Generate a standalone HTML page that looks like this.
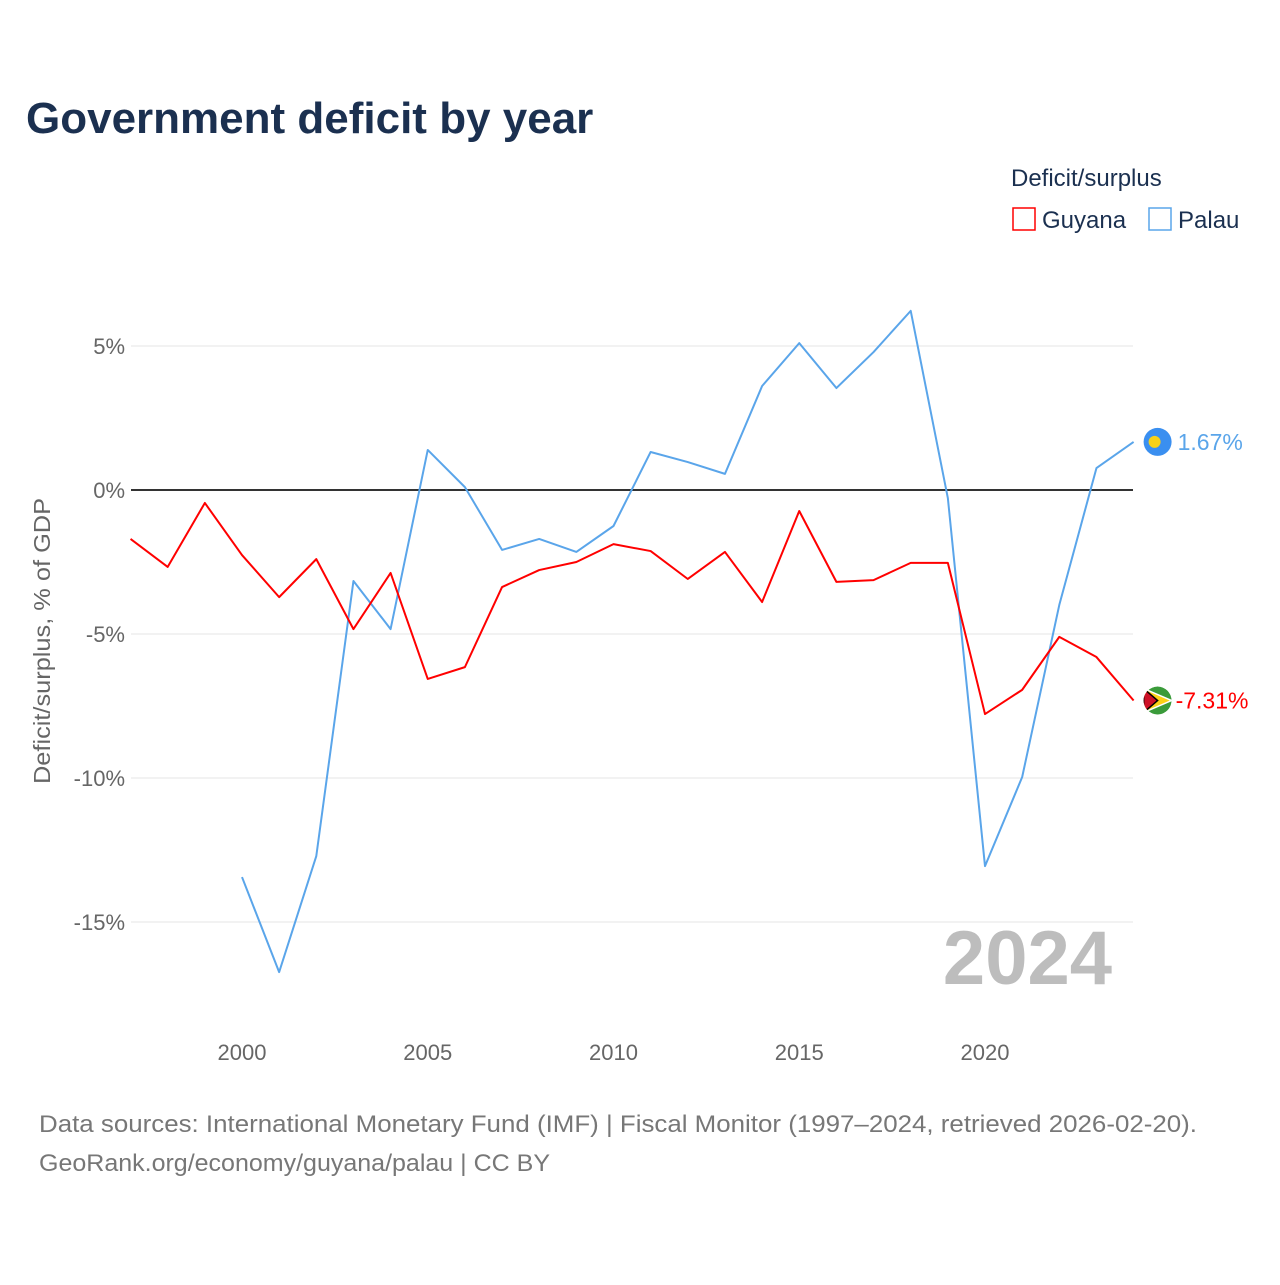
<!DOCTYPE html>
<html><head><meta charset="utf-8">
<style>
html,body{margin:0;padding:0;background:#fff;}
body{width:1280px;height:1280px;overflow:hidden;font-family:"Liberation Sans",sans-serif;}
</style></head>
<body>
<svg id="chart" width="1280" height="1280" xmlns="http://www.w3.org/2000/svg" font-family="Liberation Sans, sans-serif">
<defs><clipPath id="gclip"><circle id="gclipc" cx="0" cy="0" r="14"/></clipPath></defs>
<text x="26" y="133" font-size="44" font-weight="bold" fill="#1b3050">Government deficit by year</text>
<text x="1011" y="186" font-size="24" fill="#1b3050">Deficit/surplus</text>
<g>
<rect x="1013" y="208" width="22" height="22" fill="none" stroke="#f00" stroke-width="1.5"/>
<text x="1042" y="228" font-size="24" fill="#1b3050">Guyana</text></g>
<g>
<rect x="1149" y="208" width="22" height="22" fill="none" stroke="#5aa5ea" stroke-width="1.5"/>
<text x="1178" y="228" font-size="24" fill="#1b3050">Palau</text></g>
<text transform="translate(50,641) rotate(-90)" text-anchor="middle" font-size="23" fill="#666" textLength="286" lengthAdjust="spacingAndGlyphs">Deficit/surplus, % of GDP</text>
<g id="grid"></g>
<text x="1112" y="984" text-anchor="end" font-size="76" font-weight="bold" fill="#bdbdbd">2024</text>
<g id="series"></g>
<text x="39" y="1132" font-size="24" fill="#777" textLength="1158" lengthAdjust="spacingAndGlyphs">Data sources: International Monetary Fund (IMF) | Fiscal Monitor (1997–2024, retrieved 2026-02-20).</text>
<text x="39" y="1171" font-size="24" fill="#777" textLength="511" lengthAdjust="spacingAndGlyphs">GeoRank.org/economy/guyana/palau | CC BY</text>
</svg>
<script>
const yTicks=[5,0,-5,-10,-15];
const xTicks=[2000,2005,2010,2015,2020];
const guyanaYears=[1997,1998,1999,2000,2001,2002,2003,2004,2005,2006,2007,2008,2009,2010,2011,2012,2013,2014,2015,2016,2017,2018,2019,2020,2021,2022,2023,2024];
const guyanaValues=[-1.70,-2.67,-0.45,-2.26,-3.72,-2.40,-4.83,-2.88,-6.56,-6.15,-3.37,-2.78,-2.50,-1.88,-2.12,-3.09,-2.15,-3.89,-0.73,-3.19,-3.13,-2.53,-2.53,-7.78,-6.94,-5.10,-5.80,-7.31];
const palauYears=[2000,2001,2002,2003,2004,2005,2006,2007,2008,2009,2010,2011,2012,2013,2014,2015,2016,2017,2018,2019,2020,2021,2022,2023,2024];
const palauValues=[-13.44,-16.74,-12.71,-3.16,-4.83,1.39,0.10,-2.08,-1.70,-2.15,-1.25,1.32,0.97,0.56,3.61,5.10,3.54,4.79,6.22,-0.28,-13.06,-9.97,-3.99,0.76,1.67];
const guyanaLabel="-7.31%", palauLabel="1.67%";

const NS="http://www.w3.org/2000/svg";
const X=y=>242+(y-2000)*37.15;
const Y=v=>490-v*28.8;
function mk(tag,attrs,parent){const e=document.createElementNS(NS,tag);for(const k in attrs)e.setAttribute(k,attrs[k]);parent.appendChild(e);return e;}
const grid=document.getElementById('grid');
yTicks.forEach(t=>{
  const l=mk('line',{x1:131,x2:1133,y1:Y(t),y2:Y(t),stroke:t===0?'#333':'#e6e6e6','stroke-width':t===0?2:1},grid);
  
  
  const tx=mk('text',{x:125,y:Y(t)+8,'text-anchor':'end','font-size':22,fill:'#666'},grid);
  tx.textContent=t+'%';
  
  
});
xTicks.forEach(t=>{
  const tx=mk('text',{x:X(t),y:1060,'text-anchor':'middle','font-size':22,fill:'#666'},grid);
  tx.textContent=t;
  
  
});
const s=document.getElementById('series');
function line(years,vals,color,name){
  const p=mk('polyline',{points:years.map((y,i)=>X(y)+','+Y(vals[i])).join(' '),fill:'none',stroke:color,'stroke-width':2,'stroke-linejoin':'round'},s);
  
  
}
line(palauYears,palauValues,'#5aa5ea','palau-line');
line(guyanaYears,guyanaValues,'#f00','guyana-line');
const pv=palauValues[palauValues.length-1], gv=guyanaValues[guyanaValues.length-1];
const px=X(2024)+24;
const pc=mk('circle',{cx:px,cy:Y(pv),r:14,fill:'#3a8ff0'},s);


mk('circle',{cx:px-3,cy:Y(pv),r:6,fill:'#f7d117'},s);
const pl=mk('text',{x:px+20,y:Y(pv)+8,'font-size':23,fill:'#5aa5ea'},s);
pl.textContent=palauLabel;


const gy=Y(gv);
const cc=document.getElementById('gclipc'); cc.setAttribute('cx',px); cc.setAttribute('cy',gy);
const gg=mk('g',{'clip-path':'url(#gclip)'},s);


mk('circle',{cx:px,cy:gy,r:14,fill:'#3a9b3a'},gg);
mk('polygon',{points:`${px-14},${gy-12} ${px+14},${gy} ${px-14},${gy+12}`,fill:'#fcd116',stroke:'#fff','stroke-width':1.5},gg);
mk('polygon',{points:`${px-14},${gy-12} ${px},${gy} ${px-14},${gy+12}`,fill:'#ce1126',stroke:'#000','stroke-width':1.5},gg);
const gl=mk('text',{x:px+18,y:gy+8,'font-size':23,fill:'#f00'},s);
gl.textContent=guyanaLabel;


</script>
</body></html>
